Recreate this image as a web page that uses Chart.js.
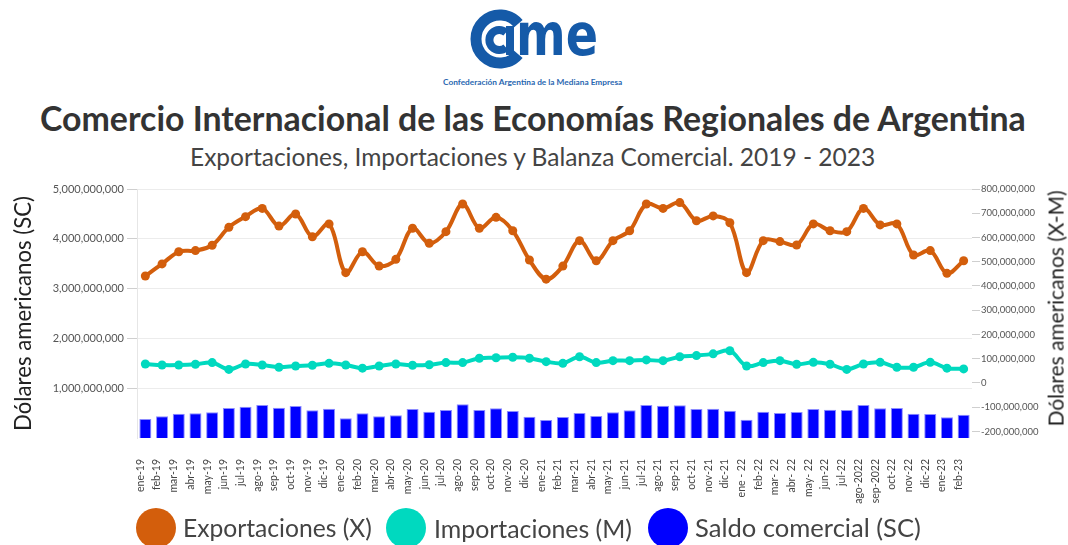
<!DOCTYPE html>
<html><head><meta charset="utf-8">
<script src="https://cdn.jsdelivr.net/npm/chart.js@4.4.1/dist/chart.umd.min.js"></script>
<style>
html,body{margin:0;padding:0;background:#fff;width:1068px;height:545px;overflow:hidden;font-family:Lato,sans-serif;}
.t{position:absolute;white-space:nowrap;line-height:1;margin:0;}
.dot{position:absolute;width:40px;height:40px;border-radius:50%;}
</style></head><body>
<svg style="position:absolute;left:0;top:0" width="1068" height="95">
  <path d="M518.4 23.6 A24 24 0 1 0 518.4 54.4" fill="none" stroke="#155aa8" stroke-width="11"/>
  <path d="M506 32.5 A10 10 0 1 0 506 47.5" fill="none" stroke="#155aa8" stroke-width="8"/>
  <rect x="506" y="26" width="8" height="29" fill="#155aa8"/>
  <text x="516" y="55" font-family="DejaVu Sans" font-weight="bold" font-size="58" fill="#155aa8" textLength="82" lengthAdjust="spacingAndGlyphs">me</text>
</svg>
<div id="logoTxt" class="t">Confederación Argentina de la Mediana Empresa</div>
<div id="title" class="t">Comercio Internacional de las Economías Regionales de Argentina</div>
<div id="subtitle" class="t">Exportaciones, Importaciones y Balanza Comercial. 2019 - 2023</div>
<div id="wrap" style="position:absolute;left:0;top:178px;width:1068px;height:332px;"><canvas id="c" width="1068" height="332"></canvas></div>
<div id="rtitle" class="t">Dólares americanos (X-M)</div>
<div class="dot" id="d1"></div><div id="l1" class="t"></div>
<div class="dot" id="d2"></div><div id="l2" class="t"></div>
<div class="dot" id="d3"></div><div id="l3" class="t"></div>
<script>
const categories = ["ene-19","feb-19","mar-19","abr-19","may-19","jun-19","jul-19","ago-19","sep-19","oct-19","nov-19","dic-19",
"ene-20","feb-20","mar-20","abr-20","may-20","jun-20","jul-20","ago-20","sep-20","oct-20","nov-20","dic-20",
"ene-21","feb-21","mar-21","abr-21","may-21","jun-21","jul-21","ago-21","sep-21","oct-21","nov-21","dic-21",
"ene - 22","feb-22","mar- 22","abr- 22","may- 22","jun-22","jul-22","ago-2022","sep-2022","oct-22","nov-22","dic-22",
"ene-23","feb-23"];
// millones de USD
const exportaciones = [441,491,541,546,568,642,686,720,647,697,603,656,
455,541,482,510,638,576,624,738,638,683,628,507,
428,482,587,504,587,628,738,720,744,669,689,661,
455,587,583,569,656,628,624,720,652,656,528,546,
452,504];
const importaciones = [78,74,74,77,84,56,78,74,65,70,73,81,
74,61,70,78,73,75,84,84,102,104,106,102,
88,81,108,84,92,92,95,92,108,113,120,133,
70,84,92,77,85,77,56,78,85,65,65,85,
61,58];
const saldoComercial = [382,436,489,495,515,602,629,663,609,643,556,589,
395,495,436,455,582,529,562,676,562,596,542,428,
361,422,502,442,515,556,663,649,656,582,589,549,
368,529,502,522,582,569,562,663,596,602,489,482,
415,469];
const leftTicks = [1e9,2e9,3e9,4e9,5e9];
const rightTicks = [-200e6,-100e6,0,100e6,200e6,300e6,400e6,500e6,600e6,700e6,800e6];
const seriesNames = ["Exportaciones (X)","Importaciones (M)","Saldo comercial (SC)"];
const colors = ["#d35e0c","#00d9bf","#0000ff"];

const FAM = "Lato, 'Open Sans', sans-serif";
const mc = document.createElement('canvas').getContext('2d');
function fitSize(text, weight, target){
  mc.font = weight + " 100px " + FAM;
  return 100*target/mc.measureText(text).width;
}
function baseOff(weight, f){
  mc.font = weight + " " + f + "px " + FAM;
  const m = mc.measureText("Ag");
  const a = m.fontBoundingBoxAscent, d = m.fontBoundingBoxDescent;
  return (f - (a+d))/2 + a;
}
function place(id, text, weight, left, width, baseline, color){
  const el = document.getElementById(id);
  el.textContent = text;
  const f = fitSize(text, weight, width);
  el.style.font = weight + " " + f + "px " + FAM;
  el.style.lineHeight = f + "px";
  el.style.left = left + "px";
  el.style.top = (baseline - baseOff(weight, f)) + "px";
  el.style.color = color;
  return f;
}
place("logoTxt", "Confederación Argentina de la Mediana Empresa", "bold", 443, 180, 85, "#2a67b1");
place("title", "Comercio Internacional de las Economías Regionales de Argentina", "bold", 40, 987, 132, "#333");
place("subtitle", "Exportaciones, Importaciones y Balanza Comercial. 2019 - 2023", "normal", 190, 687, 167, "#444");
(function(){
  const el = document.getElementById("rtitle");
  const t = "Dólares americanos (X-M)";
  const f = fitSize(t, "normal", 236);
  el.style.font = "normal " + f + "px " + FAM; el.style.lineHeight = f + "px"; el.style.color = "#222";
  mc.font = "normal " + f + "px " + FAM;
  const w = mc.measureText(t).width;
  el.style.left = (1056 - w/2) + "px"; el.style.top = (308 - f/2) + "px";
  el.style.transform = "rotate(-90deg)"; el.style.transformOrigin = "50% 50%";
})();
const dotX = [155.5, 406, 667.5], txtX = [183, 434, 695], txtW = [189, 198, 226];
for (let i=0;i<3;i++){
  const d = document.getElementById("d"+(i+1));
  d.style.left = (dotX[i]-20)+"px"; d.style.top = (528-20)+"px"; d.style.background = colors[i];
  place("l"+(i+1), seriesNames[i], "normal", txtX[i], txtW[i], 538, "#444");
}

const leftTitleSize = fitSize("Dólares americanos (SC)", "normal", 235);
const fmt = v => Math.round(v).toLocaleString('en-US');

new Chart(document.getElementById('c'), {
  data: {
    labels: categories,
    datasets: [
      {type:'line', label: seriesNames[0], data: exportaciones.map(v=>v*1e6), yAxisID:'y2',
       borderColor: colors[0], backgroundColor: colors[0], borderWidth: 4, pointRadius: 4.5,
       pointBorderWidth: 0, tension: 0.35, order: 1},
      {type:'line', label: seriesNames[1], data: importaciones.map(v=>v*1e6), yAxisID:'y2',
       borderColor: colors[1], backgroundColor: colors[1], borderWidth: 4, pointRadius: 4.5,
       pointBorderWidth: 0, tension: 0.35, order: 2},
      {type:'bar', label: seriesNames[2], data: saldoComercial.map(v=>v*1e6), yAxisID:'y',
       backgroundColor: colors[2], borderColor: '#8c8cff', borderWidth: 1,
       categoryPercentage: 1, barPercentage: 0.72, order: 3}
    ]
  },
  options: {
    responsive: false, animation: false, devicePixelRatio: 1,
    layout: {padding: {top: 11, left: 0, right: 0, bottom: 0}},
    plugins: {legend: {display: false}, tooltip: {enabled: false}},
    scales: {
      x: {
        type: 'category', offset: true,
        grid: {display: false}, border: {display: false},
        ticks: {minRotation: 90, maxRotation: 90, autoSkip: false, color: '#444', padding: 13,
                labelOffset: -5, font: {family: FAM, size: 10.5}},
        afterFit: s => { s.height = 72; }
      },
      y: {
        position: 'left', min: 0, max: 5e9,
        afterBuildTicks: a => { a.ticks = leftTicks.map(v => ({value: v})); },
        grid: {color: '#ececec', tickColor: '#cfcfcf', tickLength: 10, lineWidth: 1},
        border: {display: true, color: '#e6e6e6'},
        ticks: {color: '#555', padding: 3, font: {family: FAM, size: 11}, callback: v => fmt(v)},
        title: {display: true, text: 'Dólares americanos (SC)', color: '#222',
                font: {family: FAM, size: leftTitleSize}, padding: {top: 11, bottom: 0}},
        afterFit: s => { s.width = 137; }
      },
      y2: {
        position: 'right', min: -227e6, max: 800e6,
        afterBuildTicks: a => { a.ticks = rightTicks.map(v => ({value: v})); },
        grid: {drawOnChartArea: false, tickColor: '#cfcfcf', tickLength: 8},
        border: {display: false},
        ticks: {color: '#555', padding: 1, font: {family: FAM, size: 9.5}, callback: v => fmt(v)},
        afterFit: s => { s.width = 96; }
      }
    }
  }
});
</script>
</body></html>
